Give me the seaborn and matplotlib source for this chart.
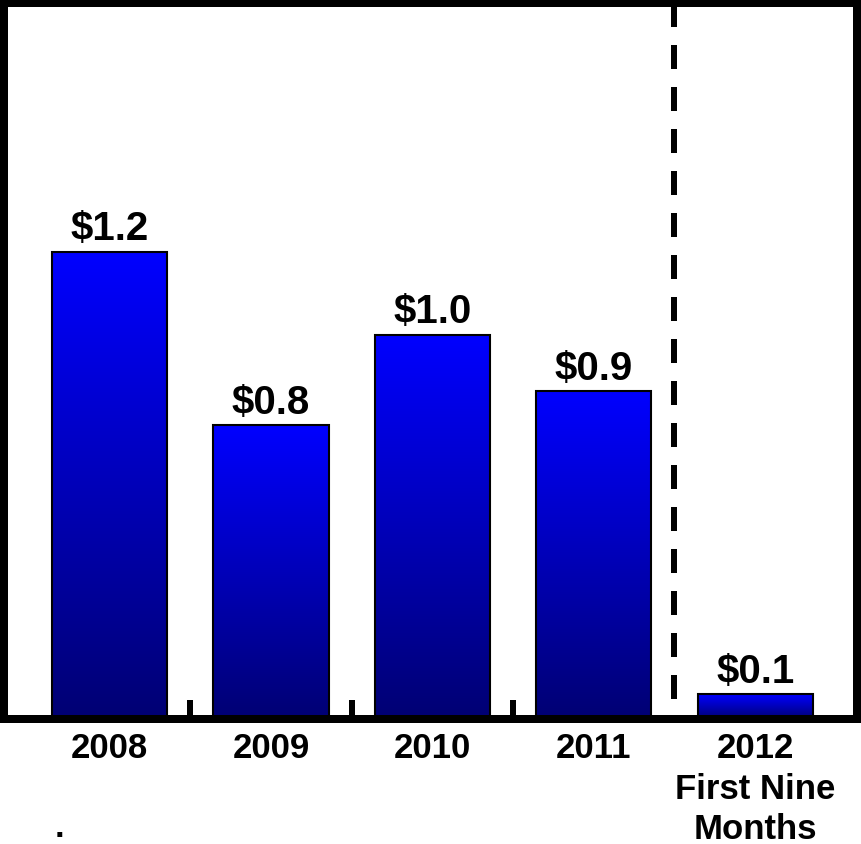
import numpy as np
import pandas as pd
import matplotlib
matplotlib.use("Agg")
import matplotlib.pyplot as plt
import seaborn as sns

# Annual amounts ($ billions); the 2012 figure covers the first nine months only
categories = ["2008", "2009", "2010", "2011", "2012"]
values = [1.24, 0.78, 1.02, 0.87, 0.066]
tick_labels = ["2008", "2009", "2010", "2011", "2012\nFirst Nine\nMonths"]

sns.set_theme(style="white")
plt.rcParams["font.family"] = ["Liberation Sans", "DejaVu Sans"]
plt.rcParams["font.weight"] = "bold"

W, H = 861, 845
fig = plt.figure(figsize=(W / 100, H / 100), dpi=100)
ax = fig.add_axes([4 / W, 125 / H, 853.5 / W, 716 / H])

df = pd.DataFrame({"year": categories, "amount": values})
sns.barplot(data=df, x="year", y="amount", color="#0000ff", width=0.713,
            edgecolor="black", linewidth=1.5, ax=ax, zorder=2)

# vertical blue gradient inside each bar: bright blue on top, navy at the base
top = np.array([0.0, 0.0, 1.0])
bottom = np.array([0.0, 0.0, 0.45])
t = np.linspace(0, 1, 256).reshape(-1, 1, 1)
grad = top * (1 - t) + bottom * t

for patch in ax.patches:
    x0, y0 = patch.get_x(), patch.get_y()
    w, h = patch.get_width(), patch.get_height()
    im = ax.imshow(grad, extent=[x0, x0 + w, y0, y0 + h], aspect="auto",
                   origin="upper", zorder=1.5, interpolation="bilinear")
    im.set_clip_path(patch)
    patch.set_facecolor("none")

ymax = 1.90
ax.set_xlim(-0.654, 4.634)
ax.set_ylim(0, ymax)

# value labels above the bars
for i, v in enumerate(values):
    ax.annotate(f"${v:.1f}", xy=(i, v), xytext=(0, 9), textcoords="offset points",
                ha="center", va="baseline", fontsize=29, fontweight="bold",
                color="black")

# dashed divider between full years and the partial year
ax.plot([3.5, 3.5], [ymax, 0], color="black", lw=4.32,
        linestyle=(0, (4, 3)), zorder=3, solid_capstyle="butt")

# axes frame
for s in ax.spines.values():
    s.set_visible(True)
    s.set_color("black")
    s.set_linewidth(5.76)

ax.set_xticks(range(len(categories)))
ax.set_xticklabels(tick_labels, fontsize=25, fontweight="bold", linespacing=1.27)
ax.set_xticks([0.5, 1.5, 2.5], minor=True)
ax.tick_params(axis="x", which="major", length=0, pad=9, colors="black")
ax.tick_params(axis="x", which="minor", direction="in", length=13.7, width=4.32,
               color="black", bottom=True)
ax.set_yticks([])
ax.set_xlabel("")
ax.set_ylabel("")

fig.text(59.5 / W, 1 - 837 / H, ".", ha="center", va="baseline",
         fontsize=25, fontweight="bold", color="black")

fig.savefig("out.png", dpi=100)
